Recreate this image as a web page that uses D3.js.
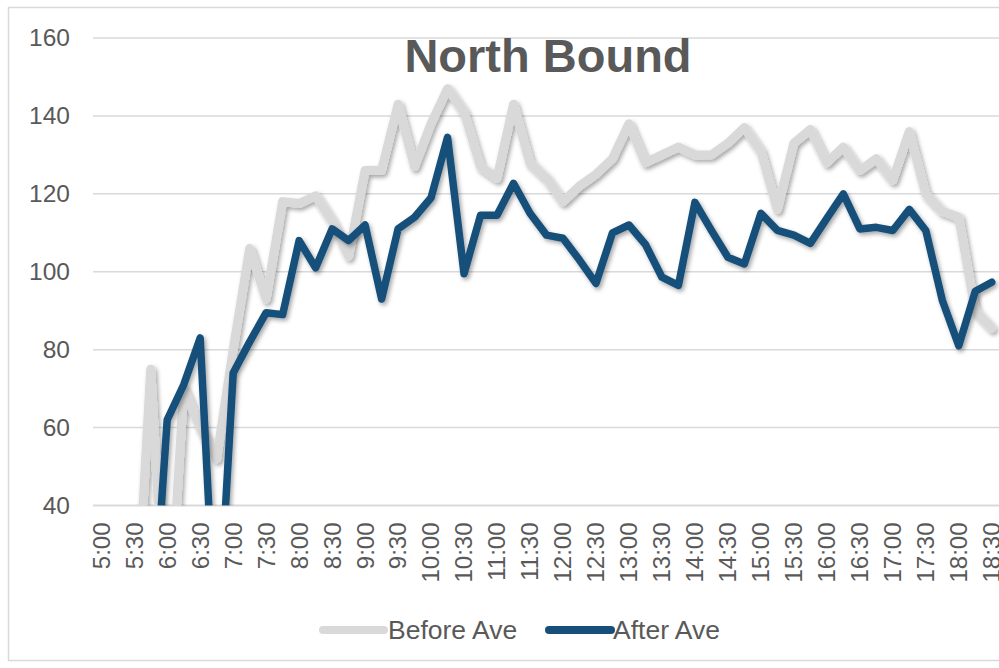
<!DOCTYPE html>
<html>
<head>
<meta charset="utf-8">
<script src="https://cdn.jsdelivr.net/npm/d3@7/dist/d3.min.js"></script>
<style>
  html, body { margin: 0; padding: 0; background: #fff; }
  svg { display: block; font-family: "Liberation Sans", Arial, sans-serif; }
</style>
</head>
<body>
<svg id="chart" width="999" height="668"></svg>
<script>
// 15-minute counting intervals, 5:00 to 18:30
const times = [
  "5:00","5:15","5:30","5:45","6:00","6:15","6:30","6:45",
  "7:00","7:15","7:30","7:45","8:00","8:15","8:30","8:45",
  "9:00","9:15","9:30","9:45","10:00","10:15","10:30","10:45",
  "11:00","11:15","11:30","11:45","12:00","12:15","12:30","12:45",
  "13:00","13:15","13:30","13:45","14:00","14:15","14:30","14:45",
  "15:00","15:15","15:30","15:45","16:00","16:15","16:30","16:45",
  "17:00","17:15","17:30","17:45","18:00","18:15","18:30"
];

// Average volume before the change
const beforeAve = [
  0, 0, 0, 75, 0, 70, 60, 52,
  80, 106, 93, 118, 117.5, 119.5, 113, 104,
  126, 126, 143, 127, 138, 147, 141, 127,
  124, 143, 128, 124, 118, 122, 125, 129,
  138, 128, 130, 132, 130, 130, 133, 137,
  131, 116, 133, 136.5, 128, 132, 126, 129,
  123.5, 136, 120, 115.5, 114, 90, 85.5
];

// Average volume after the change
const afterAve = [
  0, 0, 0, 0, 62, 71, 83, 0,
  74, 82, 89.5, 89, 108, 101, 111, 108,
  112, 93, 111, 114, 119, 134.5, 99.5, 114.5,
  114.5, 122.7, 115, 109.4, 108.6, 103, 97, 110,
  112, 107, 98.6, 96.5, 117.8, 110.6, 103.7, 102,
  115, 110.6, 109.4, 107.3, 113.7, 120, 111, 111.4,
  110.6, 116, 110.6, 92.7, 81, 95, 97.3
];

const yTicks = [40, 60, 80, 100, 120, 140, 160];

const seriesNames = ["Before Ave", "After Ave"];
const seriesColors = ["#d9d9d9", "#174f7a"];
const seriesWidths = [9, 7.5];

const svg = d3.select("#chart");
const textColor = "#595959";

// chart area border
svg.append("rect")
  .attr("x", 8.5).attr("y", 7.5)
  .attr("width", 1010).attr("height", 653)
  .attr("fill", "none").attr("stroke", "#d9d9d9").attr("stroke-width", 1.5);

const plot = { left: 93, right: 1000, top: 38, bottom: 505.5 };

const x = d3.scaleBand().domain(times).range([plot.left, plot.right]).padding(0);
const cx = t => x(t) + x.bandwidth() / 2;
const y = d3.scaleLinear().domain([40, 160]).range([plot.bottom, plot.top]);

// horizontal gridlines
svg.append("g").selectAll("line").data(yTicks).join("line")
  .attr("x1", plot.left).attr("x2", plot.right)
  .attr("y1", d => y(d)).attr("y2", d => y(d))
  .attr("stroke", "#d9d9d9")
  .attr("stroke-width", d => d === 40 ? 2 : 1.5);

// y axis labels
const yAxis = svg.append("g")
  .attr("transform", `translate(${plot.left - 23},0)`)
  .call(d3.axisLeft(y).tickValues(yTicks).tickSize(0).tickPadding(0));
yAxis.select(".domain").remove();
yAxis.selectAll("text")
  .attr("fill", textColor).attr("font-size", 24.5)
  .attr("font-family", "Liberation Sans, Arial, sans-serif");

// x axis labels, every half hour, rotated
const xAxis = svg.append("g")
  .attr("transform", `translate(0,${plot.bottom})`)
  .call(d3.axisBottom(x).tickValues(times.filter((d, i) => i % 2 === 0)).tickSize(0));
xAxis.select(".domain").remove();
xAxis.selectAll("text")
  .attr("fill", textColor).attr("font-size", 24)
  .attr("font-family", "Liberation Sans, Arial, sans-serif")
  .attr("text-anchor", "end")
  .attr("transform", "rotate(-90)")
  .attr("x", -17).attr("y", 0).attr("dy", "0.35em");

// title
svg.append("text")
  .attr("x", 548).attr("y", 72)
  .attr("text-anchor", "middle")
  .attr("font-size", 47).attr("font-weight", "bold")
  .attr("fill", textColor)
  .text("North Bound");

// line shadow and clipping
const defs = svg.append("defs");
const f = defs.append("filter").attr("id", "shadow")
  .attr("x", "-5%").attr("y", "-10%").attr("width", "110%").attr("height", "120%");
f.append("feDropShadow")
  .attr("dx", 2).attr("dy", 2.5).attr("stdDeviation", 2)
  .attr("flood-color", "#000").attr("flood-opacity", 0.35);
defs.append("clipPath").attr("id", "plotclip")
  .append("rect")
  .attr("x", plot.left).attr("y", 20)
  .attr("width", plot.right - plot.left + 5)
  .attr("height", plot.bottom - 20);

const line = d3.line()
  .x((d, i) => cx(times[i]))
  .y(d => y(d));

const series = [beforeAve, afterAve];
const lines = svg.append("g").attr("clip-path", "url(#plotclip)");
series.forEach((vals, k) => {
  lines.append("path")
    .datum(vals)
    .attr("d", line)
    .attr("fill", "none")
    .attr("stroke", seriesColors[k])
    .attr("stroke-width", seriesWidths[k])
    .attr("stroke-linejoin", "round")
    .attr("stroke-linecap", "round")
    .attr("filter", "url(#shadow)");
});

// legend
const legendItems = [
  { x1: 323, x2: 384, tx: 388 },
  { x1: 549, x2: 611, tx: 613 }
];
const legend = svg.append("g");
legendItems.forEach((it, k) => {
  legend.append("line")
    .attr("x1", it.x1).attr("x2", it.x2)
    .attr("y1", 630).attr("y2", 630)
    .attr("stroke", seriesColors[k])
    .attr("stroke-width", 8)
    .attr("stroke-linecap", "round");
  legend.append("text")
    .attr("x", it.tx).attr("y", 630).attr("dy", "0.35em")
    .attr("font-size", 26.5).attr("fill", textColor)
    .text(seriesNames[k]);
});
</script>
</body>
</html>
